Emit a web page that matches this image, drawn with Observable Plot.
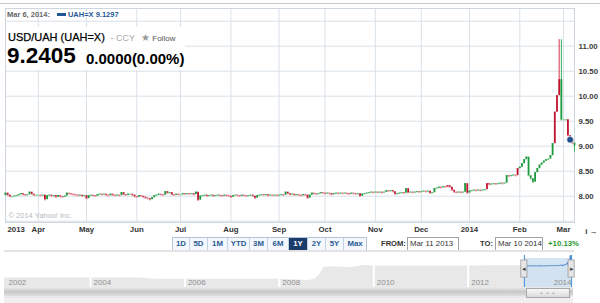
<!DOCTYPE html>
<html><head><meta charset="utf-8">
<script src="https://cdn.jsdelivr.net/npm/d3@7"></script>
<script src="https://cdn.jsdelivr.net/npm/@observablehq/plot@0.6"></script>
<style>
body{margin:0;background:#fff;font-family:"Liberation Sans",Arial,sans-serif;}
#wrap{position:relative;width:600px;height:303px;overflow:hidden;background:#fff;}
.abs{position:absolute;}
#topline{left:0;top:3px;width:600px;height:1px;background:#c9c9c9;}
#legend{left:7px;top:10px;font-size:7.5px;font-weight:bold;color:#666;white-space:nowrap;}
#legend .sw{display:inline-block;width:9px;height:3px;background:#1f5797;margin:0 2px 1px 7px;vertical-align:middle;}
#legend .v{color:#1f5797;}
#titlebox{left:6px;top:27px;width:179px;height:43px;background:#fff;}
#title{left:8px;top:31px;font-size:11px;color:#000;white-space:nowrap;-webkit-text-stroke:0.25px #000;}
#title .ccy{color:#aaa;font-size:9px;-webkit-text-stroke:0;}
#title .fol{color:#555;font-size:8px;-webkit-text-stroke:0;}
#title .star{color:#999;font-size:10px;-webkit-text-stroke:0;}
#price{left:7px;top:43px;font-size:22.5px;font-weight:bold;color:#000;white-space:nowrap;}
#chg{left:86px;top:50px;font-size:15px;font-weight:bold;color:#000;white-space:nowrap;}
#btns{left:172px;top:237px;height:12px;display:flex;border:1px solid #b3c5d8;}
#btns div{height:12px;line-height:12px;font-size:7.8px;font-weight:bold;color:#2a5b96;background:#f4f7fb;text-align:center;border-right:1px solid #c3d2e2;box-sizing:border-box;}
#btns div.on{background:#1b3c6b;color:#fff;}
.lab{font-size:7.6px;font-weight:bold;color:#333;top:239px;}
.inp{top:237px;height:12px;border:1px solid #a3a3a3;font-size:7.8px;color:#333;line-height:12px;padding-left:2px;box-sizing:content-box;background:#fff;white-space:nowrap;}
#pct{left:548px;top:239px;font-size:7.8px;font-weight:bold;color:#1f9a2c;}
#sep{left:4px;top:250px;width:570px;height:2px;background:#e3e3e3;}
#track{left:4px;top:287px;width:569px;height:10px;background:linear-gradient(#ececec,#c9c9c9 45%,#d8d8d8 80%,#eeeeee);}
#thumb{left:526px;top:288px;width:42px;height:8px;border:1px solid #a8a8a8;background:linear-gradient(#f7f7f7,#dcdcdc);font-size:6px;color:#888;text-align:center;line-height:7px;letter-spacing:1px;}
#bottom{left:4px;top:298px;width:569px;height:5px;background:#efefef;}
</style></head><body>
<div id="wrap">
  <div id="main" class="abs" style="left:0;top:0"></div>
  <div id="nav" class="abs" style="left:0;top:255px"></div>
  <div id="topline" class="abs"></div>
  <div id="legend" class="abs"></div>
  <div id="titlebox" class="abs"></div>
  <div id="title" class="abs"></div>
  <div id="price" class="abs"></div>
  <div id="chg" class="abs"></div>
  <div id="btns" class="abs"></div>
  <div id="fromL" class="abs lab" style="left:381px">FROM:</div>
  <div id="fromV" class="abs inp" style="left:407px;width:48px"></div>
  <div id="toL" class="abs lab" style="left:480px">TO:</div>
  <div id="toV" class="abs inp" style="left:495px;width:44px"></div>
  <div id="pct" class="abs"></div>
  <div id="sep" class="abs"></div>
  <div id="track" class="abs"></div>
  <div id="thumb" class="abs">&#8964;&#8964;&#8964;</div>
  <div id="bottom" class="abs"></div>
</div>
<script>
// ---------- data ----------
const symbol = "USD/UAH (UAH=X)";
const lastPrice = "9.2405";
const change = "0.0000(0.00%)";
const markerDate = "Mar 6, 2014:";
const markerLabel = "UAH=X 9.1297";
const markerIndex = 258;
const markerValue = 9.1297;
const fromDate = "Mar 11 2013";
const toDate = "Mar 10 2014";
const periodChange = "+10.13%";
const ranges = ["1D","5D","1M","YTD","3M","6M","1Y","2Y","5Y","Max"];
const rangeWidths = [17,18,20,22,18,21,19,18,18,22];
const activeRange = "1Y";

// x axis: trading-day index of first session of each month
const monthLabels = ["2013","Apr","May","Jun","Jul","Aug","Sep","Oct","Nov","Dec","2014","Feb","Mar"];
const monthStart  = [0,15,37,60,80,103,125,146,169,190,212,235,255];
const yTicks = [8.0,8.5,9.0,9.5,10.0,10.5,11.0];
const yGrid  = [7.5,8.0,8.5,9.0,9.5,10.0,10.5,11.0,11.5];

// daily closes, Mar 11 2013 .. Mar 10 2014 (261 sessions)
const firstOpen = 8.01;
const close = [
  // Mar 2013
  8.06,8.02,7.99,7.99,8.00,8.01,8.03,8.05,8.03,8.02,8.03,8.08,8.04,8.02,8.02,
  // Apr
  8.02,8.01,8.02,7.93,8.01,8.02,8.00,8.01,7.98,8.01,7.99,7.98,8.00,8.06,8.05,8.04,8.03,8.02,8.01,8.02,8.00,8.01,
  // May
  7.95,8.01,8.02,8.01,8.00,8.03,8.04,8.03,8.04,8.02,8.01,8.04,8.02,8.01,8.02,8.01,8.07,8.03,8.02,8.04,8.04,8.02,7.99,
  // Jun
  7.98,8.01,8.00,7.98,7.96,7.95,7.93,7.97,8.01,8.02,8.04,8.03,8.02,8.09,8.06,8.07,8.03,8.02,8.04,8.03,
  // Jul
  8.03,8.05,8.04,8.05,8.04,8.05,8.03,8.08,7.92,8.00,8.01,8.02,8.00,8.01,8.02,8.00,8.01,8.02,8.01,8.00,8.02,8.01,8.00,
  // Aug
  7.98,8.01,8.02,8.01,8.00,8.02,8.01,8.00,8.01,8.02,8.00,7.96,8.01,8.02,8.03,8.02,8.03,8.01,8.02,8.01,8.02,8.01,
  // Sep
  8.02,8.03,8.02,8.08,8.05,8.03,8.04,8.02,8.03,8.02,8.01,8.03,8.02,7.96,8.02,8.06,8.05,8.04,8.05,8.07,8.06,
  // Oct
  8.05,8.06,8.05,8.03,8.05,8.06,8.05,8.06,8.05,8.06,8.05,8.04,8.06,8.05,8.04,8.05,8.00,8.04,8.05,8.06,8.07,8.08,8.07,
  // Nov
  8.08,8.07,8.08,8.07,8.08,8.11,8.10,8.11,8.09,8.04,8.05,8.06,8.07,8.06,8.15,8.07,8.08,8.07,8.08,8.09,8.08,
  // Dec
  8.09,8.10,8.09,8.10,8.06,8.07,8.15,8.16,8.18,8.17,8.19,8.18,8.21,8.18,8.12,8.08,8.07,8.08,8.07,8.08,8.25,8.06,
  // Jan 2014
  8.10,8.11,8.12,8.11,8.12,8.11,8.12,8.13,8.25,8.23,8.24,8.25,8.24,8.25,8.26,8.25,8.26,8.41,8.40,8.41,8.42,8.41,8.55,
  // Feb
  8.58,8.65,8.73,8.78,8.41,8.35,8.28,8.47,8.55,8.62,8.66,8.70,8.73,8.74,8.81,9.05,9.68,10.01,10.33,9.53,
  // Mar
  9.53,9.53,9.21,9.13,9.06,9.02
];
// sessions whose candle colour is opposite to the day's step direction
const redSessions   = [184, 202, 220, 234, 251, 252, 253];
const greenSessions = [239, 240, 241, 254, 260];
// long shadows (session index, low, high)
const wickIndex = [253, 254, 260];
const wickLow   = [10.33, 9.53, 8.88];
const wickHigh  = [11.13, 11.13, 9.06];

// navigator (long history), decimal years
const navYear = [2002.18,2002.5,2003,2003.5,2004,2004.5,2005,2005.3,2005.4,2006,2007,2007.5,2008,2008.3,2008.6,2008.75,2008.85,2008.95,2009.1,2009.3,2009.5,2009.7,2009.8,2010,2010.5,2011,2011.5,2012,2012.5,2013];
const navRate = [5.33,5.33,5.33,5.33,5.32,5.31,5.30,5.08,5.05,5.05,5.05,5.05,5.05,4.90,4.75,4.95,6.00,7.70,7.80,7.70,7.65,7.90,8.15,7.95,7.95,7.97,7.98,7.99,8.02,8.04];
const navYearLabels = [2002,2004,2006,2008,2010,2012,2014];
const selStart = 2013.19, selEnd = 2014.19;

// ---------- header / html ----------
document.getElementById("legend").innerHTML = `${markerDate}<span class="sw"></span><span class="v">${markerLabel}</span>`;
document.getElementById("title").innerHTML = `${symbol} <span class="ccy">&nbsp;-&nbsp;CCY</span>&nbsp;&nbsp;<span class="star">&#9733;</span><span class="fol"> Follow</span>`;
document.getElementById("price").textContent = lastPrice;
document.getElementById("chg").textContent = change;
document.getElementById("fromV").textContent = fromDate;
document.getElementById("toV").textContent = toDate;
document.getElementById("pct").textContent = periodChange;
const btns = document.getElementById("btns");
ranges.forEach((r,k)=>{
  const b = document.createElement("div");
  b.textContent = r; b.style.width = rangeWidths[k]+"px";
  if (r === activeRange) b.className = "on";
  if (k === ranges.length-1) b.style.borderRight = "none";
  btns.appendChild(b);
});

// ---------- main chart ----------
const rows = close.map((c,i)=>({i, open: i===0 ? firstOpen : close[i-1], close: c}));
rows.forEach(d => {
  d.up = d.close >= d.open;
  if (redSessions.includes(d.i)) d.up = false;
  if (greenSessions.includes(d.i)) d.up = true;
});
const wicks = wickIndex.map((i,k)=>({i, lo: wickLow[k], hi: wickHigh[k], up: rows[i].up}));
const lbl = new Map(monthStart.map((s,k)=>[s, monthLabels[k]]));
const font = '"Liberation Sans", Arial, sans-serif';
const grid = "#d9e1e8";

const main = Plot.plot({
  width: 600, height: 236,
  marginLeft: 5, marginRight: 26, marginTop: 8, marginBottom: 14,
  x: {domain: [0, 260], axis: null},
  y: {domain: [7.474, 11.754], axis: null},
  color: {type: "identity"},
  style: {fontFamily: font, fontSize: "7.8px", fontWeight: "bold", color: "#333", background: "transparent", overflow: "visible"},
  marks: [
    Plot.ruleY(yGrid, {stroke: grid}),
    Plot.ruleX(monthStart.slice(1), {stroke: grid}),
    Plot.frame({stroke: "#cdd6de"}),
    Plot.text(["\u00a9 2014 Yahoo! Inc."], {frameAnchor: "bottom-left", dx: 3, dy: -5, fill: "#b3bac2", fontWeight: "normal", fontSize: 7.5}),
    Plot.link(rows, {x1: d => d.i - 0.5, x2: d => d.i + 0.5, y1: "close", y2: "close",
      stroke: d => d.up ? "#8fd09f" : "#eba2ad", strokeWidth: 1.4}),
    Plot.ruleX(wicks, {x: "i", y1: "lo", y2: "hi", stroke: d => d.up ? "#3bb05a" : "#d2364f", strokeWidth: 1}),
    Plot.ruleX(rows.filter(d => d.open !== d.close), {x: "i", y1: "open", y2: "close",
      stroke: d => d.up ? "#1c9a3b" : "#c0112e", strokeWidth: 1.8}),
    Plot.dot([{i: markerIndex, v: markerValue}], {x: "i", y: "v", r: 3.3, fill: "#1d4f8a", stroke: "#ffffff", strokeWidth: 0.6}),
    Plot.axisY(yTicks, {anchor: "right", tickSize: 0, tickPadding: 4, tickFormat: d => d.toFixed(2), fill: "#3a3a3a"}),
    Plot.axisX(monthStart.slice(1), {anchor: "bottom", tickSize: 0, tickPadding: 4, tickFormat: d => lbl.get(d), fill: "#333"}),
    Plot.text([monthLabels[0]], {x: () => monthStart[0], frameAnchor: "bottom", lineAnchor: "top", textAnchor: "start", dx: 2, dy: 4, fill: "#333"})
  ]
});
document.getElementById("main").appendChild(main);

// ---------- navigator ----------
const navRows = navYear.map((t,k)=>({t, v: navRate[k]}));
const selRows = close.map((c,i)=>({t: selStart + i/(close.length-1)*(selEnd-selStart), v: c}));
const navAll = navRows.concat(selRows);
const xMin = 2002.18, xMax = 2014.23;

const nav = Plot.plot({
  width: 600, height: 32,
  marginLeft: 4, marginRight: 27, marginTop: 0, marginBottom: 0,
  x: {domain: [xMin, xMax], axis: null},
  y: {domain: [3.2, 10.3], axis: null},
  style: {fontFamily: font, fontSize: "8px", background: "transparent", overflow: "visible"},
  marks: [
    Plot.areaY(navAll, {x: "t", y: "v", fill: "#e8e8e8", curve: "linear"}),
    Plot.rect([{a: selStart, b: selEnd}], {x1: "a", x2: "b", fill: "#cfe1f1", fillOpacity: 0.85, insetTop: 3}),
    Plot.ruleX(navYearLabels.slice(1, -1), {stroke: "#ffffff", strokeWidth: 2}),
    Plot.line(selRows, {x: "t", y: "v", stroke: "#3f86cf", strokeWidth: 1}),
    Plot.text(navYearLabels.slice(0, 1), {x: () => xMin, text: d => String(d), frameAnchor: "bottom", lineAnchor: "bottom", dy: -3, dx: 4, textAnchor: "start", fill: "#8f8f8f"}),
    Plot.text(navYearLabels.slice(1, -1), {x: d => d, text: d => String(d), frameAnchor: "bottom", lineAnchor: "bottom", dy: -3, dx: 3, textAnchor: "start", fill: "#8f8f8f"}),
    Plot.text(navYearLabels.slice(-1), {x: () => xMax, text: d => String(d), frameAnchor: "bottom", lineAnchor: "bottom", dy: -3, dx: -2, textAnchor: "end", fill: "#8f8f8f"}),
    Plot.ruleX([selStart, selEnd], {stroke: "#3f8fd8", strokeWidth: 1}),
    Plot.rect([selStart, selEnd], {x1: d => d - 0.065, x2: d => d + 0.065, y1: 5.4, y2: 9.2, fill: "#e6e6e6", stroke: "#9a9a9a", strokeWidth: 0.8}),
    Plot.text([selStart, selEnd], {x: d => d, y: 7.3, text: (d,i) => i === 0 ? "\u25C2" : "\u25B8", fill: "#444", fontSize: 7})
  ]
});
document.getElementById("nav").appendChild(nav);
</script>
</body></html>
